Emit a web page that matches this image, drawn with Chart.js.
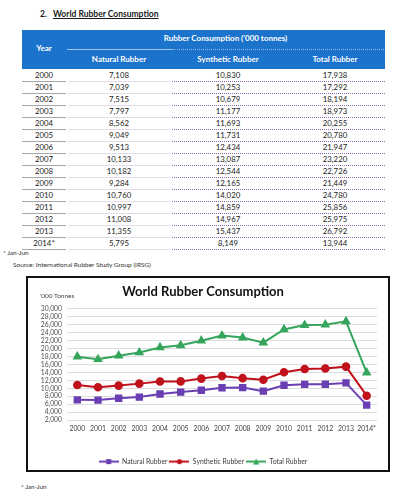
<!DOCTYPE html>
<html>
<head>
<meta charset="utf-8">
<script src="https://cdn.jsdelivr.net/npm/chart.js@4.4.1/dist/chart.umd.min.js"></script>
<style>
    html, body { margin: 0; padding: 0; background: #fff; }
    body { width: 405px; height: 499px; position: relative; overflow: hidden; font-family: Lato, 'DejaVu Sans', sans-serif; color: #1a1a1a; }
    .abs { position: absolute; white-space: nowrap; }
    .heading { left: 40px; top: 9px; font-size: 8.5px; font-weight: bold; }
    .heading u { margin-left: 6px; }
    .thead { left: 22px; top: 30px; width: 363px; height: 39px; background: #1c73cc; }
    .th { color: #fff; font-weight: bold; font-size: 8px; text-align: center; }
    .cell { font-size: 7.8px; text-align: center; line-height: 12px; }
    .note { font-size: 6.5px; color: #333; }
    .chartBox { left: 26px; top: 276px; width: 360px; height: 192px; border: 2px solid #111; }
    .chartWrap { position: absolute; left: 1px; top: 1px; width: 358px; height: 196px; }
    .unit { left: 40px; top: 292px; font-size: 6.5px; color: #444; }
</style>
</head>
<body>
<div class="abs heading">2.<u>World Rubber Consumption</u></div>
<div class="abs thead"></div>
<div id="table"></div>
<div class="abs note" style="left:3px; top:249px;">* Jan-Jun</div>
<div class="abs note" style="left:13px; top:261px;">Source: International Rubber Study Group (IRSG)</div>

<div class="abs chartBox">
    <div class="chartWrap"><canvas id="rubberChart"></canvas></div>
</div>
<div class="abs unit">'000 Tonnes</div>
<div class="abs note" style="left:21px; top:483px;">* Jan-Jun</div>

<script>
const years = ['2000', '2001', '2002', '2003', '2004', '2005', '2006', '2007', '2008', '2009', '2010', '2011', '2012', '2013', '2014*'];
const naturalRubber = [7108, 7039, 7515, 7797, 8562, 9049, 9513, 10133, 10182, 9284, 10760, 10997, 11008, 11355, 5795];
const syntheticRubber = [10830, 10253, 10679, 11177, 11693, 11731, 12434, 13087, 12544, 12165, 14020, 14859, 14967, 15437, 8149];
const totalRubber = [17938, 17292, 18194, 18973, 20255, 20780, 21947, 23220, 22726, 21449, 24780, 25856, 25975, 26792, 13944];
const seriesNames = ['Natural Rubber', 'Synthetic Rubber', 'Total Rubber'];

const fmt = v => v.toLocaleString('en-US');

// --- table ---
const table = document.getElementById('table');
function addText(html, cls, style) {
    const d = document.createElement('div');
    d.className = 'abs ' + cls;
    d.style.cssText = style;
    d.innerHTML = html;
    table.appendChild(d);
}

addText('Year', 'th', 'left:22px; width:44px; top:43px;');
addText("Rubber Consumption ('000 tonnes)", 'th', 'left:66px; width:319px; top:33px;');
addText('', '', 'left:67px; top:49px; width:105px; height:1px; background:#9cc6ee;');
addText('', '', 'left:172px; top:49px; width:212px; border-top:1px dotted #8fbbe6;');
addText(seriesNames[0], 'th', 'left:66px; width:106px; top:54px;');
addText(seriesNames[1], 'th', 'left:172px; width:112px; top:54px;');
addText(seriesNames[2], 'th', 'left:284px; width:102px; top:54px;');

years.forEach((y, i) => {
    const top = 69 + i * 12;
    addText(y, 'cell', `left:22px; width:44px; top:${top}px;`);
    addText(fmt(naturalRubber[i]), 'cell', `left:66px; width:106px; top:${top}px;`);
    addText(fmt(syntheticRubber[i]), 'cell', `left:172px; width:112px; top:${top}px;`);
    addText(fmt(totalRubber[i]), 'cell', `left:284px; width:102px; top:${top}px;`);
    const lineTop = top + 12;
    addText('', '', `left:22px; top:${lineTop}px; width:44px; height:1px; background:#a6a6a6;`);
    addText('', '', `left:68px; top:${lineTop}px; width:102px; height:1px; background:#e2dcea;`);
    addText('', '', `left:172px; top:${lineTop}px; width:213px; border-top:1px dotted #8a6bb5;`);
});

// --- chart ---
const colors = ['#6a3fb3', '#c0121c', '#36a55c'];
const shapes = ['rect', 'circle', 'triangle'];

function legendIcon(color, shape) {
    const c = document.createElement('canvas');
    c.width = 20; c.height = 7;
    const g = c.getContext('2d');
    g.strokeStyle = color; g.fillStyle = color; g.lineWidth = 2;
    g.beginPath(); g.moveTo(0, 3.5); g.lineTo(20, 3.5); g.stroke();
    g.beginPath();
    if (shape === 'rect') g.rect(7.5, 1, 5, 5);
    else if (shape === 'circle') g.arc(10, 3.5, 2.6, 0, Math.PI * 2);
    else { g.moveTo(10, 0.5); g.lineTo(13, 6.5); g.lineTo(7, 6.5); g.closePath(); }
    g.fill();
    return c;
}

const seriesData = [naturalRubber, syntheticRubber, totalRubber];

new Chart(document.getElementById('rubberChart'), {
    type: 'line',
    data: {
        labels: years,
        datasets: seriesData.map((d, i) => ({
            label: seriesNames[i],
            data: d,
            borderColor: colors[i],
            backgroundColor: colors[i],
            borderWidth: 2,
            pointStyle: shapes[i],
            pointRadius: i === 0 ? 3.8 : (i === 1 ? 3.3 : 3.6),
            pointBackgroundColor: colors[i],
            pointBorderColor: colors[i],
            tension: 0
        }))
    },
    options: {
        responsive: true,
        maintainAspectRatio: false,
        animation: false,
        layout: { padding: { left: 0, right: 10, top: 0, bottom: 0 } },
        scales: {
            y: {
                min: 2000,
                max: 30000,
                ticks: {
                    stepSize: 2000,
                    autoSkip: false,
                    padding: 5,
                    color: '#505050',
                    font: { family: 'Lato', size: 6.8 },
                    callback: v => fmt(v)
                },
                grid: { color: '#dcdcdc', drawTicks: false },
                border: { display: false },
                afterFit: s => { s.width = 38; }
            },
            x: {
                offset: true,
                ticks: {
                    padding: 5,
                    color: '#404040',
                    font: { family: 'Lato', size: 6.8 },
                    maxRotation: 0,
                    autoSkip: false
                },
                grid: { display: false, drawTicks: false },
                border: { display: false },
                afterFit: s => { s.height = 36; }
            }
        },
        plugins: {
            title: {
                display: true,
                text: 'World Rubber Consumption',
                color: '#111',
                font: { family: 'Lato', size: 13, weight: 'bold' },
                padding: { top: 5, bottom: 9 }
            },
            legend: {
                position: 'bottom',
                labels: {
                    color: '#404040',
                    font: { family: 'Lato', size: 6.8 },
                    padding: 2,
                    boxWidth: 20,
                    boxHeight: 7,
                    pointStyleWidth: 20,
                    usePointStyle: true,
                    generateLabels: chart => chart.data.datasets.map((ds, i) => ({
                        text: ds.label,
                        pointStyle: legendIcon(colors[i], shapes[i]),
                        fillStyle: colors[i],
                        strokeStyle: colors[i],
                        fontColor: '#404040',
                        lineWidth: 0,
                        datasetIndex: i
                    }))
                }
            },
            tooltip: { enabled: false }
        }
    }
});
</script>
</body>
</html>
